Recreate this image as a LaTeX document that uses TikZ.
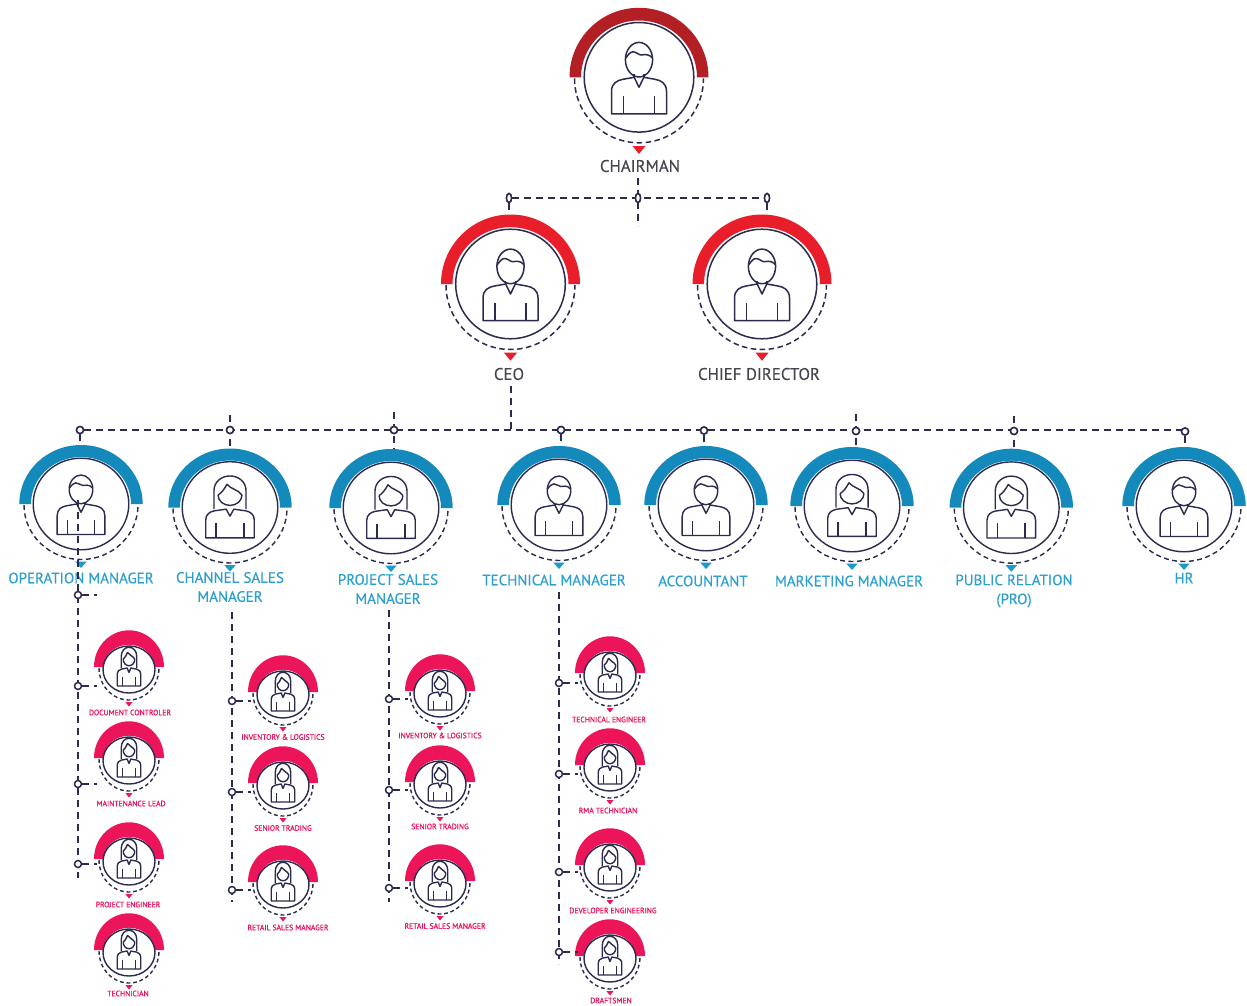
\documentclass[tikz,border=0pt]{standalone}
\usepackage{fontspec}
\setmainfont{PT Sans}
\newfontfamily\labelfont[FakeBold=0.2]{PT Sans}
\newfontfamily\pinkfont[FakeStretch=0.98,FakeBold=0.8]{PT Sans}
\usetikzlibrary{shapes.geometric,calc}
\definecolor{ink}{HTML}{2B2A4F}
\definecolor{darkred}{HTML}{B21F24}
\definecolor{brightred}{HTML}{E81E2A}
\definecolor{triblue}{HTML}{1C9AC9}
\definecolor{arcblue}{HTML}{1489BC}
\definecolor{txtblue}{HTML}{2A9FD0}
\definecolor{rosy}{HTML}{EC1559}
\definecolor{txtgray}{HTML}{45454F}
\tikzset{
  x=1pt,y=1pt,
  link/.style={draw=ink,line width=1.8pt,dash pattern=on 7pt off 5pt},
  stub/.style={link,shorten >=-3pt},
  joint/.style={circle,draw=ink,fill=white,line width=1.5pt,inner sep=0pt,minimum size=7pt},
  slimjoint/.style={ellipse,draw=ink,fill=white,line width=1.5pt,inner sep=0pt,minimum width=5pt,minimum height=9pt},
  holder/.style={ellipse,inner sep=0pt,outer sep=0pt},
  bigtext/.style={font=\labelfont\fontsize{16.8}{19}\selectfont,text=txtgray,align=center,inner sep=0pt},
  midtext/.style={font=\labelfont\fontsize{15}{19}\selectfont,text=txtblue,align=center,inner sep=0pt},
  smalltext/.style={font=\pinkfont\fontsize{7.8}{9}\selectfont,text=rosy,align=center,inner sep=0pt},
}
% geometry of each tier
\newcommand{\tierTop}[2]{\def\tArc{#1}\def\tTri{#2}%
  \def\oX{69.5}\def\oY{69.5}\def\iX{58}\def\iY{56.8}%
  \def\rX{54.8}\def\rY{54.8}\def\rC{0}\def\dX{64.5}\def\dY{64.5}%
  \def\sX{1}\def\sY{1}\def\tO{68.7}\def\tH{8}\def\tHw{6.5}%
  \def\tL{1.5}\def\tDash{5.5}\def\tGap{3.5}}
\newcommand{\tierBlue}{\def\tArc{arcblue}\def\tTri{triblue}%
  \def\oX{61.7}\def\oY{59}\def\iX{50}\def\iY{47}%
  \def\rX{47.8}\def\rY{45.8}\def\rC{0}\def\dX{57}\def\dY{54.5}%
  \def\sX{.867}\def\sY{.83}\def\tO{57.5}\def\tH{6.5}\def\tHw{5.8}%
  \def\tL{1.4}\def\tDash{5}\def\tGap{3.4}}
\newcommand{\tierPink}{\def\tArc{rosy}\def\tTri{rosy}%
  \def\oX{35}\def\oY{36.7}\def\iX{25.3}\def\iY{22.3}%
  \def\rX{26}\def\rY{23.5}\def\rC{2.5}\def\dX{30}\def\dY{32}%
  \def\sX{.42}\def\sY{.52}\def\tO{35}\def\tH{4.5}\def\tHw{3.6}%
  \def\tL{1.4}\def\tDash{3.8}\def\tGap{2.8}}
\newcommand{\person}[4]{%
  \pgfmathsetmacro{\hW}{2*\oX}\pgfmathsetmacro{\hH}{2*\oY}
  \node[holder,minimum width=\hW pt,minimum height=\hH pt] (#1) at (#2,-#3) {};
  \begin{scope}[shift={(#2,-#3)}]
    \fill[\tArc] (\oX,0) arc (0:180:\oX pt and \oY pt) -- (-\iX,0) arc (180:0:\iX pt and \iY pt) -- cycle;
    \draw[ink,line width=\tL pt,dash pattern=on \tDash pt off \tGap pt] (-\dX,-1) arc (180:360:\dX pt and \dY pt);
    \draw[ink,line width=\tL pt] (0,-\rC) ellipse (\rX pt and \rY pt);
    \fill[\tTri] (-\tHw,-\tO) -- (\tHw,-\tO) -- (0,-\tO-\tH) -- cycle;
    \begin{scope}[xscale=\sX,yscale=\sY,ink,line width=\tL pt,line join=round]
      \csname icon#4\endcsname
    \end{scope}
  \end{scope}}
\newcommand{\iconM}{%
  \draw (0,17.6) ellipse (13.6pt and 17.3pt);
  \draw (-13.6,19) .. controls (-11,22) and (-9,25.5) .. (-6,25.5) .. controls (-3,25.5) and (0,22.3) .. (2,22.3) .. controls (5,22.3) and (9,24.5) .. (13.6,19);
  \draw (-27.5,-36.7) -- (-27.5,-14) .. controls (-27.5,-6) and (-22,-3) .. (-16,-2) -- (-4.8,0) -- (0,-10) -- (4.8,0) -- (16,-2) .. controls (22,-3) and (27.5,-6) .. (27.5,-14) -- (27.5,-36.7) -- cycle;
  \draw (-4.8,0) -- (-4.8,3) (4.8,0) -- (4.8,3);
  \draw (-15.5,-36.7) -- (-15.5,-19) (15.5,-36.7) -- (15.5,-19);}
\newcommand{\iconF}{%
  \draw (-13.8,15) arc (180:360:13.8pt and 12.5pt);
  \draw (-13.8,15) .. controls (-10,17) and (-6,23) .. (-3.5,28) .. controls (1,22) and (9,22) .. (13.8,15);
  \draw (-18.5,-2) -- (-18.5,20) .. controls (-18.5,31) and (-10,38) .. (0,38) .. controls (10,38) and (18.5,31) .. (18.5,20) -- (18.5,-2);
  \draw (-28,-36.5) -- (-28,-15) .. controls (-28,-8) and (-23,-5) .. (-18,-4) -- (-4.4,-2) -- (0,-10.4) -- (4.4,-2) -- (18,-4) .. controls (23,-5) and (28,-8) .. (28,-15) -- (28,-36.5) -- cycle;
  \draw (-16,-36.5) -- (-16,-19) (16,-36.5) -- (16,-19);}
\begin{document}
\begin{tikzpicture}
\useasboundingbox (0,-1006) rectangle (1247,0);
\fill[white] (0,-1006) rectangle (1247,0);

% top tier
\tierTop{darkred}{brightred}
\person{chair}{639}{77.3}{M}
\tierTop{brightred}{brightred}
\person{ceo}{510.5}{284}{M}
\person{chief}{762}{284}{M}
% blue tier
\tierBlue
\person{oper}{81}{504}{M}
\person{chan}{230}{507.5}{F}
\person{proj}{391}{508}{F}
\person{tech}{559}{505}{M}
\person{acct}{706}{505}{M}
\person{mark}{852}{506}{F}
\person{pubr}{1011.3}{507.7}{F}
\person{hr}{1184}{506}{M}
% pink tier
\tierPink
\person{opa}{129}{667}{F}
\person{opb}{129}{758}{F}
\person{opc}{129}{859}{F}
\person{opd}{129}{950}{F}
\person{cha}{283}{692}{F}
\person{chb}{283}{783}{F}
\person{chc}{283}{882}{F}
\person{pra}{440}{691}{F}
\person{prb}{440}{782}{F}
\person{prc}{440}{881}{F}
\person{tea}{610}{673}{F}
\person{teb}{610}{765}{F}
\person{tec}{610}{865}{F}
\person{ted}{610}{956}{F}

% labels
\node[bigtext] (lchair) at (640,-166) {CHAIRMAN};
\node[bigtext] (lceo) at (509,-374) {CEO};
\node[bigtext] (lchief) at (759,-374) {CHIEF DIRECTOR};
\node[midtext] (loper) at (81,-578) {OPERATION MANAGER};
\node[midtext] (lchan) at (230,-587) {CHANNEL SALES\\MANAGER};
\node[midtext] (lproj) at (388,-589) {PROJECT SALES\\MANAGER};
\node[midtext] (ltech) at (554,-580) {TECHNICAL MANAGER};
\node[midtext] (lacct) at (703,-581) {ACCOUNTANT};
\node[midtext] (lmark) at (849,-581) {MARKETING MANAGER};
\node[midtext] (lpubr) at (1014,-591) {PUBLIC RELATION\\(PRO)};
\node[midtext] (lhr) at (1184,-578) {HR};
\node[smalltext] at (130,-712.5) {DOCUMENT CONTROLER};
\node[smalltext] at (131,-803.5) {MAINTENANCE LEAD};
\node[smalltext] at (128,-904.5) {PROJECT ENGINEER};
\node[smalltext] at (128,-993.5) {TECHNICIAN};
\node[smalltext] at (283,-737) {INVENTORY \& LOGISTICS};
\node[smalltext] at (283,-828) {SENIOR TRADING};
\node[smalltext] at (288,-927.5) {RETAIL SALES MANAGER};
\node[smalltext] at (440,-735.5) {INVENTORY \& LOGISTICS};
\node[smalltext] at (440,-826.5) {SENIOR TRADING};
\node[smalltext] at (445,-926) {RETAIL SALES MANAGER};
\node[smalltext] at (609,-719.5) {TECHNICAL ENGINEER};
\node[smalltext] at (608,-810.5) {RMA TECHNICIAN};
\node[smalltext] at (613,-910.5) {DEVELOPER ENGINEERING};
\node[smalltext] at (611,-1000.5) {DRAFTSMEN};

% free ends of connectors
\coordinate (c1) at (638,-178);
\coordinate (c2) at (638,-226);
\coordinate (c3) at (511,-386);
\coordinate (c4) at (511,-430);
\coordinate (t2) at (230,-415);
\coordinate (t3) at (394,-412);
\coordinate (t6) at (856,-414);
\coordinate (t7) at (1014,-416);
\coordinate (o1) at (78,-500);
\coordinate (o2) at (78,-878);
\coordinate (o3) at (97,-595);
\coordinate (a1) at (232,-612);
\coordinate (a2) at (232,-902);
\coordinate (b1) at (389,-610);
\coordinate (b2) at (389,-902);
\coordinate (d1) at (559,-592);
\coordinate (d2) at (559,-964);

% top bus
\node[slimjoint] (j0) at (509,-198) {};
\node[slimjoint] (j1) at (638,-198) {};
\node[slimjoint] (j2) at (767,-198) {};
\draw[link] (c1) -- (c2);
\draw[link] (j0) -- (j2);
\draw[link] (j0) -- (j0 |- ceo.north);
\draw[link] (j2) -- (j2 |- chief.north);
\node[slimjoint] at (j0) {};
\node[slimjoint] at (j1) {};
\node[slimjoint] at (j2) {};

% manager bus
\node[joint] (m1) at (80,-430) {};
\node[joint] (m2) at (230,-430) {};
\node[joint] (m3) at (394,-430) {};
\node[joint] (m4) at (561,-430) {};
\node[joint] (m5) at (704,-430.5) {};
\node[joint] (m6) at (856,-431) {};
\node[joint] (m7) at (1014,-431) {};
\node[joint] (m8) at (1185,-431.5) {};
\draw[link] (c3) -- (c4);
\draw[link] (m1) -- (m8 |- m1);
\draw[link] (m1) -- (m1 |- oper.north);
\draw[link] (t2) -- (t2 |- chan.north);
\draw[link] (t3) -- (t3 |- proj.north);
\draw[link] (m4) -- (m4 |- tech.north);
\draw[link] (m5) -- (m5 |- acct.north);
\draw[link] (t6) -- (t6 |- mark.north);
\draw[link] (t7) -- (t7 |- pubr.north);
\draw[link] (m8) -- (m8 |- hr.north);
\foreach \j in {m1,m2,m3,m4,m5,m6,m7,m8} {\node[joint] at (\j) {};}

% operation branch
\draw[link] (o1) -- (o2);
\node[joint] (p0) at (78,-595) {};
\node[joint] (p1) at (78,-686) {};
\node[joint] (p2) at (78,-784) {};
\node[joint] (p3) at (78,-864) {};
\draw[link] (p0) -- (o3);
\draw[stub] (p1) -- (p1 -| opa.west);
\draw[stub] (p2) -- (p2 -| opb.west);
\draw[stub] (p3) -- (p3 -| opc.west);

% channel branch
\draw[link] (a1) -- (a2);
\node[joint] (q1) at (232,-701) {};
\node[joint] (q2) at (232,-792) {};
\node[joint] (q3) at (232,-890) {};
\draw[stub] (q1) -- (q1 -| cha.west);
\draw[stub] (q2) -- (q2 -| chb.west);
\draw[stub] (q3) -- (q3 -| chc.west);

% project branch
\draw[link] (b1) -- (b2);
\node[joint] (r1) at (389,-699) {};
\node[joint] (r2) at (389,-790) {};
\node[joint] (r3) at (389,-888) {};
\draw[stub] (r1) -- (r1 -| pra.west);
\draw[stub] (r2) -- (r2 -| prb.west);
\draw[stub] (r3) -- (r3 -| prc.west);

% technical branch
\draw[link] (d1) -- (d2);
\node[joint] (s1) at (559,-683) {};
\node[joint] (s2) at (559,-774) {};
\node[joint] (s3) at (559,-872) {};
\node[joint] (s4) at (559,-952) {};
\draw[stub] (s1) -- (s1 -| tea.west);
\draw[stub] (s2) -- (s2 -| teb.west);
\draw[stub] (s3) -- (s3 -| tec.west);
\draw[stub] (s4) -- (s4 -| ted.west);
\end{tikzpicture}
\end{document}
